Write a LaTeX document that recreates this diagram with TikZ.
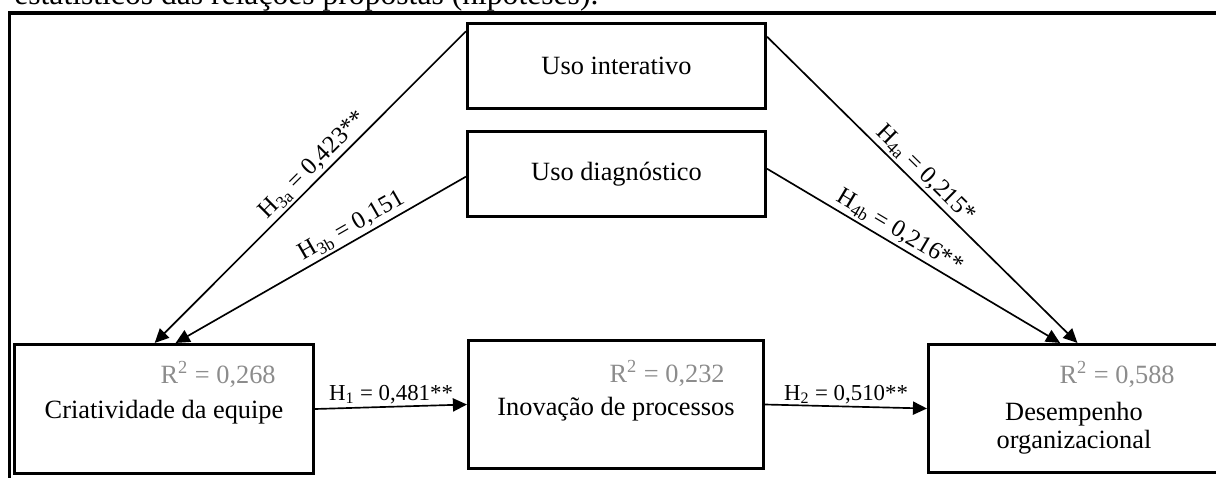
\documentclass[tikz,border=0pt]{standalone}
\usepackage{fontspec}
\setmainfont{Liberation Serif}
\usetikzlibrary{arrows.meta}
\definecolor{cinzaR}{HTML}{8C8C8C}

\begin{document}
\begin{tikzpicture}[x=0.02cm,y=-0.02cm,
  caixa/.style={draw,line width=1.8pt,inner sep=0pt,font=\fontsize{15}{16}\selectfont},
  nome/.style={font=\fontsize{15}{16}\selectfont,inner sep=0pt},
  erre/.style={font=\fontsize{15}{16}\selectfont,text=cinzaR,inner sep=0pt,anchor=base east},
  seta/.style={line width=0.95pt,-{Triangle[length=8pt,width=7.5pt]}},
  hip/.style={font=\fontsize{14}{16}\selectfont,inner sep=1.5pt,sloped,above},
  hiph/.style={font=\fontsize{13}{15}\selectfont,inner sep=1pt,above}]
\useasboundingbox (0,0) rectangle (1216,477);
\clip (0,0) rectangle (1216,477);
% legenda cortada no topo
\node[anchor=base west,inner sep=0pt,font=\fontsize{18}{20}\selectfont] (leg) at (14,4) {estatísticos das relações propostas (hipóteses).};
\draw[line width=2.2pt] (9.5,13) rectangle (1240,500);
% construtos
\node[caixa,minimum width=5.96cm,minimum height=1.70cm] (inter) at (616.5,66) {Uso interativo};
\node[caixa,minimum width=5.96cm,minimum height=1.70cm] (diag) at (616.5,174) {Uso diagnóstico};
\node[caixa,minimum width=5.98cm,minimum height=2.58cm] (criat) at (164,409) {};
\node[caixa,minimum width=5.90cm,minimum height=2.56cm] (inov) at (616,404.5) {};
\node[caixa,minimum width=5.82cm,minimum height=2.56cm] (desemp) at (1074,408.5) {};
\node[nome,anchor=base] (criatN) at (164,418) {Criatividade da equipe};
\node[nome,anchor=base] (inovN) at (616,415) {Inovação de processos};
\node[nome,align=center] (desempN) at (1074,428) {Desempenho\\organizacional};
\node[erre] (criatR) at (276,383) {R\textsuperscript{2} = 0,268};
\node[erre] (inovR) at (725,382) {R\textsuperscript{2} = 0,232};
\node[erre] (desempR) at (1175,383) {R\textsuperscript{2} = 0,588};
% hipoteses
\draw[seta] (inter.167) -- node[hip,pos=0.46] {H\textsubscript{3a} = 0,423**} (criat.98);
\draw[seta] (diag.181) -- node[hip,pos=0.37] {H\textsubscript{3b} = 0,151} (criat.80);
\draw[seta] (inter.11) -- node[hip,pos=0.48] {H\textsubscript{4a} = 0,215*} (desemp.87);
\draw[seta] (diag.2) -- node[hip,pos=0.43] {H\textsubscript{4b} = 0,216**} (desemp.102);
\draw[seta] (criat.east) -- node[hiph] {H\textsubscript{1} = 0,481**} (inov.west);
\draw[seta] (inov.east) -- node[hiph] {H\textsubscript{2} = 0,510**} (desemp.west);
\end{tikzpicture}
\end{document}
